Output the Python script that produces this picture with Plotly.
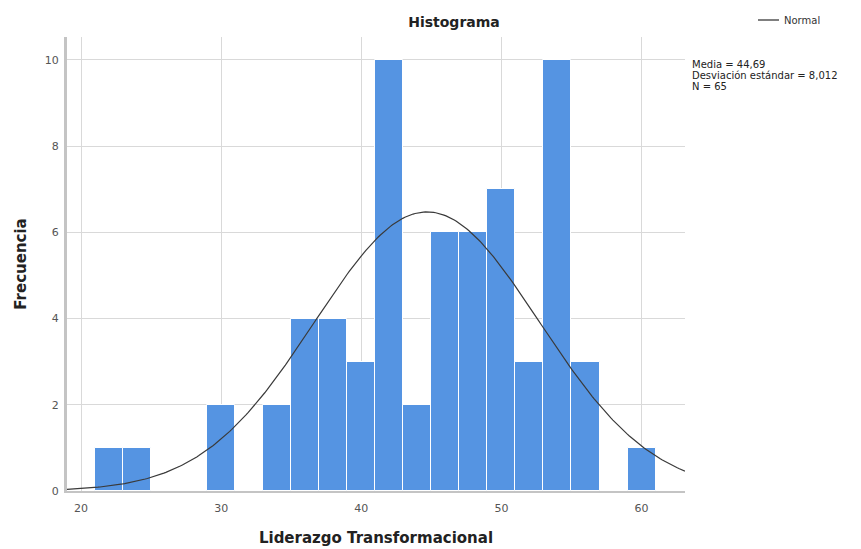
import math
import plotly.graph_objects as go

# Data
bin_centers = [22, 24, 30, 34, 36, 38, 40, 42, 44, 46, 48, 50, 52, 54, 56, 60]
counts = [1, 1, 2, 2, 4, 4, 3, 10, 2, 6, 6, 7, 3, 10, 3, 1]
bin_width = 2
mean_val = 44.69
sd_val = 8.012
n_val = 65
x_ticks = [20, 30, 40, 50, 60]
y_ticks = [0, 2, 4, 6, 8, 10]

# Fitted normal curve (from the reported mean, sd and N)
x_min, x_max = 19.0, 63.1
steps = 300
curve_x = [x_min + (x_max - x_min) * i / steps for i in range(steps + 1)]
scale = n_val * bin_width / (sd_val * math.sqrt(2 * math.pi))
curve_y = [scale * math.exp(-0.5 * ((x - mean_val) / sd_val) ** 2) for x in curve_x]

FONT = "DejaVu Sans"
W, H = 861, 549
ML, MR, MT, MB = 67, 176, 37, 58
PW, PH = W - ML - MR, H - MT - MB


def px_x(px):
    return (px - ML) / PW


def px_y(py):
    return 1 - (py - MT) / PH


fig = go.Figure()
fig.add_trace(go.Bar(
    x=bin_centers, y=counts, width=[bin_width] * len(bin_centers),
    marker=dict(color="#5594E2", line=dict(color="white", width=1)),
    showlegend=False, hoverinfo="x+y",
))
fig.add_trace(go.Scatter(
    x=curve_x, y=curve_y, mode="lines", name="Normal",
    line=dict(color="#3a3a3a", width=1.2), showlegend=False,
))

fig.update_layout(
    width=W, height=H,
    margin=dict(l=ML, r=MR, t=MT, b=MB, autoexpand=False),
    paper_bgcolor="white", plot_bgcolor="white",
    font=dict(family=FONT, color="#333333"),
    title=dict(text="<b>Histograma</b>", x=454 / W, xanchor="center",
               y=1 - 22 / H, yanchor="middle",
               font=dict(size=14, family=FONT, color="#222222")),
    bargap=0,
    showlegend=False,
    xaxis=dict(
        range=[x_min, x_max], tickvals=x_ticks, automargin=False,
        showgrid=True, gridcolor="#d9d9d9", gridwidth=1,
        zeroline=False, showline=True, linecolor="#c4c4c4", linewidth=2,
        ticks="outside", ticklen=6, tickcolor="rgba(0,0,0,0)",
        tickfont=dict(size=11, color="#555555"),
        title=dict(text="<b>Liderazgo Transformacional</b>", standoff=18,
                   font=dict(size=15, color="#222222")),
    ),
    yaxis=dict(
        range=[0, 10.53], tickvals=y_ticks, automargin=False,
        showgrid=True, gridcolor="#d9d9d9", gridwidth=1,
        zeroline=False, showline=True, linecolor="#c4c4c4", linewidth=3,
        ticks="outside", ticklen=3, tickcolor="rgba(0,0,0,0)",
        tickfont=dict(size=11, color="#555555"),
        title=dict(text="<b>Frecuencia</b>", standoff=15,
                   font=dict(size=15, color="#222222")),
    ),
)

# Legend drawn manually (line sample + label)
fig.add_shape(type="line", xref="paper", yref="paper",
              x0=px_x(758), x1=px_x(779), y0=px_y(20), y1=px_y(20),
              line=dict(color="#555555", width=1.5))
fig.add_annotation(xref="paper", yref="paper", x=px_x(782), y=px_y(20),
                   xanchor="left", yanchor="middle", showarrow=False,
                   text="Normal", font=dict(size=10, family=FONT, color="#333333"))

stats_lines = [
    f"Media = {mean_val:.2f}".replace(".", ","),
    f"Desviación estándar = {sd_val:.3f}".replace(".", ","),
    f"N = {n_val}",
]
for i, line in enumerate(stats_lines):
    fig.add_annotation(
        xref="paper", yref="paper", x=px_x(691), y=px_y(64 + 11.5 * i),
        xanchor="left", yanchor="middle", align="left", showarrow=False,
        borderpad=0,
        text=line, font=dict(size=10, family=FONT, color="#222222"),
    )

fig.write_html("out.html")
